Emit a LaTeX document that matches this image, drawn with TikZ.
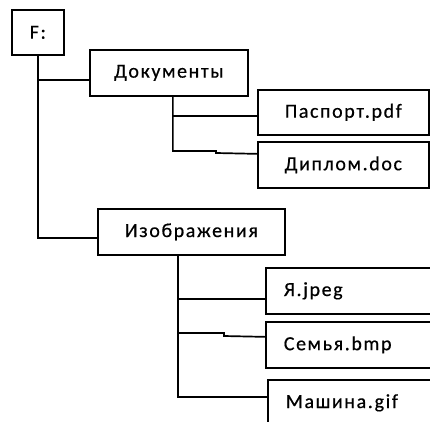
\documentclass[tikz,border=0pt]{standalone}
\usepackage{fontspec}
\setmainfont[LetterSpace=8,FakeBold=0.5]{Carlito}
\begin{document}
\begin{tikzpicture}[x=1pt,y=-1pt,
  box/.style={draw,line width=1.7pt,rectangle,minimum height=46pt,inner sep=0pt,font=\fontsize{20}{22}\selectfont,anchor=north west},
  lbox/.style={box,align=left,inner xsep=18pt},
  conn/.style={line width=1.7pt}]
\clip (0,0) rectangle (430,421);
\fill[white] (0,0) rectangle (430,421);
% boxes
\node[box,minimum width=52pt,minimum height=45pt] (F) at (11,9) {F:};
\node[box,minimum width=158pt] (doc) at (89,49) {Документы};
\node[box,minimum width=171pt,minimum height=45pt] (pas) at (257,89) {Паспорт.pdf};
\node[box,minimum width=171pt] (dip) at (257,141) {Диплом.doc};
\node[box,minimum width=187pt] (img) at (97,208) {Изображения};
\node[lbox,text width=144pt] (ya) at (265,267) {Я.jpeg};
\node[lbox,text width=144pt] (sem) at (265,321) {Семья.bmp};
\node[lbox,text width=142pt] (mash) at (267,379) {Машина.gif};
% connectors
\coordinate (j1) at ([yshift=-7pt]doc.west);
\coordinate (j2) at ([yshift=-6pt]img.west);
\draw[conn] (F.south) -- (F.south |- j2) -- (j2);
\draw[conn] (F.south |- j1) -- (j1);
\coordinate (d0) at ([xshift=4pt]doc.south);
\coordinate (j3) at ([yshift=-3.5pt]pas.west);
\coordinate (j4) at ([yshift=11pt]dip.west);
\draw[conn] (d0) -- (d0 |- 0,151) -- (216,151) -- (216,153) -- (j4);
\draw[conn] (d0 |- j3) -- (j3);
\coordinate (i0) at ([xshift=-13.5pt]img.south);
\coordinate (j5) at ([yshift=-8pt]ya.west);
\coordinate (j6) at ([yshift=8pt]sem.west);
\coordinate (j7) at ([yshift=6pt]mash.west);
\draw[conn] (i0) -- (i0 |- j7) -- (j7);
\draw[conn] (i0 |- j5) -- (j5);
\draw[conn] (i0 |- 0,333) -- (224,333) -- (224,336) -- (j6);
\end{tikzpicture}
\end{document}
